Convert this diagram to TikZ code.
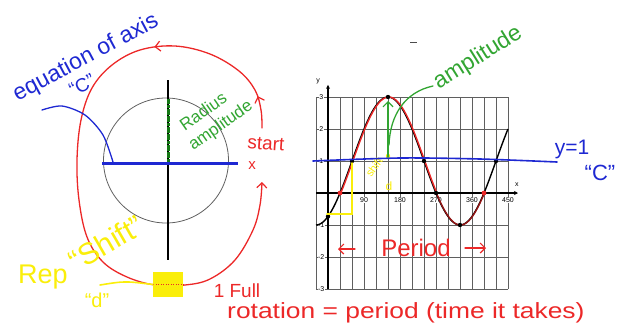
\documentclass[tikz,border=0pt]{standalone}
\usepackage{fontspec}
\setmainfont{Liberation Sans}
\usetikzlibrary{decorations.markings,arrows.meta}
\definecolor{penred}{RGB}{236,40,40}
\definecolor{penblue}{RGB}{30,40,210}
\definecolor{pengreen}{RGB}{50,165,50}
\definecolor{darkgreen}{RGB}{20,120,20}
\definecolor{penyellow}{RGB}{250,238,10}
\definecolor{darkred}{RGB}{150,20,20}
\definecolor{gridgray}{RGB}{95,95,95}
\tikzset{
  barb/.tip={Straight Barb[length=5pt,width=10pt,line width=1.2pt]},
  redpen/.style={penred,line width=1.3pt,line cap=round,line join=round},
  bluepen/.style={penblue,line width=1.3pt,line cap=round},
  greenpen/.style={pengreen,line width=1.3pt,line cap=round},
  yellowpen/.style={penyellow,line width=1.6pt,line cap=round},
  gridline/.style={gridgray,line width=0.5pt},
  axisline/.style={black,line width=1.1pt},
  ticklbl/.style={font=\fontsize{7}{8}\selectfont,inner sep=0pt},
  hand/.style={inner sep=0pt},
  dot/.style={circle,fill=black,inner sep=0pt,minimum size=4.4pt},
  reddot/.style={circle,fill=penred,inner sep=0pt,minimum size=4.8pt},
}
\begin{document}
\begin{tikzpicture}[x=1pt,y=-1pt]
\useasboundingbox (0,0) rectangle (623,325);

% ---------------- left: unit circle sketch ----------------
\node[circle,draw=gridgray,line width=0.8pt,minimum size=125pt,inner sep=0pt] (circ) at (166,160.5) {};
\coordinate (vtop) at (168,80);
\coordinate (vbot) at (168,260);
\draw[black,line width=1.8pt] (vtop) -- (vbot);
\coordinate (hl) at (102,163);
\coordinate (hr) at (238,163);
\draw[penblue,line width=3pt] (hl) -- (hr);
\coordinate (rtop) at (168,99);
\coordinate (rctr) at (168,162);
\draw[darkgreen,line width=3pt,dash pattern=on 3pt off 0.6pt] (rctr) -- (rtop);

% red rotation loop
\draw[redpen,-{barb},
  postaction={decorate},
  decoration={markings,
    mark=at position 0.05 with {\arrow{barb}},
    mark=at position 0.24 with {\arrow{barb}}}]
  plot[smooth,tension=0.6] coordinates {(262,128) (261,110) (255,90) (239,71) (210,54) (175,46) (140,50) (112,65) (92,88) (81,120) (77,160) (79,200) (87,237) (103,262) (127,277) (155,285) (185,285) (210,279) (235,260) (253,230) (260,205) (262,182)};

% texts on the left
\node[hand,penblue,rotate=28,font=\fontsize{23}{25}\selectfont] (eq) at (86,58) {equation of axis};
\node[hand,penblue,rotate=28,font=\fontsize{19}{21}\selectfont] (eqc) at (82,85) {“C”};
\coordinate (eqstart) at (42,110);
\draw[bluepen] plot[smooth] coordinates {(eqstart) (62,106) (85,115) (103,135) (113,162)};

\node[hand,pengreen,rotate=35,font=\fontsize{17}{18}\selectfont] (rad1) at (203,111) {Radius};
\node[hand,pengreen,rotate=35,font=\fontsize{17}{18}\selectfont] (rad2) at (221,126) {amplitude};
\node[hand,penred,rotate=-4,font=\fontsize{19}{21}\selectfont] (start) at (266,144) {start};
\node[hand,penred,font=\fontsize{15}{16}\selectfont] (startx) at (252,166) {x};

% yellow shift marks
\node[hand,penyellow,font=\fontsize{27}{28}\selectfont] (rep) at (43,277) {Rep};
\node[hand,penyellow,rotate=30,font=\fontsize{30}{31}\selectfont] (shift) at (106,243) {“Shift”};
\node[hand,penyellow,font=\fontsize{20}{21}\selectfont] (dq) at (97,300) {“d”};
\node[fill=penyellow,minimum width=30pt,minimum height=25pt,inner sep=0pt] (ybox) at (168,284.5) {};
\draw[penred,line width=1pt,dash pattern=on 1pt off 1.5pt] ([xshift=-2pt]ybox.west) -- ([xshift=2pt]ybox.east);
\draw[yellowpen] (100,285) .. controls (125,281) .. (ybox.west);

\node[hand,penred,font=\fontsize{19}{20}\selectfont] (full) at (237,291) {1 Full};
\node[hand,penred,font=\fontsize{22}{23}\selectfont,xscale=1.2,anchor=west] (rotper) at (227,313) {rotation = period (time it takes)};

% ---------------- right: graph ----------------
\begin{scope}[shift={(328,193)},x=0.4pt,y=32pt]
  \foreach \i in {-30,0,...,450} \draw[gridline] (\i,-3) -- (\i,3);
  \foreach \j in {-3,...,3} \draw[gridline] (-30,\j) -- (450,\j);
  \draw[axisline,-{Stealth[length=4pt,width=4pt]}] (-30,0) -- (475,0);
  \draw[axisline,-{Stealth[length=4pt,width=4pt]}] (0,-3) -- (0,3.38);
  \node[ticklbl] (xl) at (472,0.27) {x};
  \node[ticklbl] (yl) at (-25,3.48) {y};
  \foreach \v/\t in {3/3,2/2,1/1,-1/-1,-2/-2,-3/-3}
    \node[ticklbl,fill=white,inner sep=0.4pt] at (-17,\v) {\t};
  \foreach \d in {90,180,270,360,450}
    \node[ticklbl,fill=white,inner sep=0.4pt] at (\d,-0.22) {\d};
  % black sinusoid
  \draw[black,line width=1.4pt] plot[domain=-30:450,samples=121,smooth] (\x,{1+2*sin(\x-60)});
  % red traced period
  \draw[penred,line width=1.4pt] plot[domain=30:270,samples=61,smooth] ({\x+2},{1+2*sin(\x-60)});
  \draw[darkred,line width=1.4pt] plot[domain=270:390,samples=41,smooth] ({\x+1},{1+2*sin(\x-60)});
  % points
  \foreach \p in {60,150,240,270,330,420,0}
    \node[dot] at (\p,{1+2*sin(\p-60)}) {};
  \foreach \p in {30,390}
    \node[reddot] at (\p,0) {};
\end{scope}

% yellow shift in graph
\draw[yellowpen] (327,214) -- (352,214) -- (352,163);
\fill[penyellow] (388,156) circle[radius=2.2pt];
\node[hand,penyellow,rotate=55,font=\fontsize{11}{12}\selectfont] (shtxt) at (374,167) {shift};
\node[hand,penyellow,font=\fontsize{12}{12}\selectfont] (shd) at (389,186) {d};

% axis of equation y = 1
\draw[penblue,line width=1.6pt,line cap=round] plot[smooth] coordinates {(313,161) (400,158) (480,159) (557,162)};
\node[hand,penblue,font=\fontsize{21}{22}\selectfont] (y1) at (572,149) {y=1};
\node[hand,penblue,font=\fontsize{22}{23}\selectfont] (yc) at (600,173) {“C”};

% amplitude
\node[hand,pengreen,rotate=32,font=\fontsize{23}{24}\selectfont] (amp) at (478,58) {amplitude};
\coordinate (ampbase) at (388,157);
\coordinate (amptop) at (388,101);
\draw[greenpen,-{barb}] (ampbase) -- (amptop);
\draw[greenpen] (433,86) .. controls (405,92) and (390,115) .. (389,145);
\draw[black!70,line width=0.8pt] (410,42) -- (417,42);

% period label
\node[hand,penred,font=\fontsize{24}{25}\selectfont] (per) at (416,248) {Period};
\draw[redpen,-{barb}] (355,249) -- (338,249);
\draw[redpen,-{barb}] (465,248) -- (486,248);
\end{tikzpicture}
\end{document}
